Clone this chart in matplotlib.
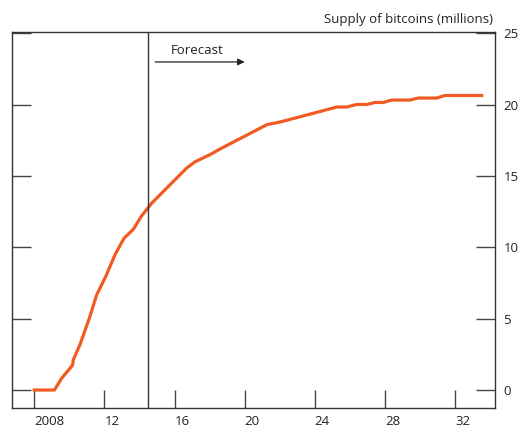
import matplotlib
matplotlib.use("Agg")
import matplotlib.pyplot as plt

years = [2008.0, 2009.15, 2009.56, 2010.19, 2010.22, 2010.6, 2011.14, 2011.56,
         2012.09, 2012.6, 2013.12, 2013.65, 2014.12, 2014.7, 2016.69, 2017.17,
         2018.02, 2018.6, 2021.26, 2022.02, 2024.1, 2025.25, 2025.82, 2026.39,
         2026.96, 2027.44, 2027.91, 2028.39, 2029.43, 2029.9, 2030.95, 2031.43,
         2033.52]
supply = [0.0, 0.0, 0.82, 1.75, 2.1, 3.16, 5.03, 6.67,
          8.0, 9.47, 10.64, 11.27, 12.2, 13.1, 15.56, 16.0,
          16.5, 16.9, 18.6, 18.79, 19.46, 19.84, 19.84, 20.02,
          20.02, 20.16, 20.16, 20.33, 20.33, 20.47, 20.47, 20.65,
          20.65]
xticks = [2008, 2012, 2016, 2020, 2024, 2028, 2032]
xticklabels = ["2008", "12", "16", "20", "24", "28", "32"]
yticks = [0, 5, 10, 15, 20, 25]
forecast_start = 2014.5

plt.rcParams['font.family'] = ['Open Sans', 'DejaVu Sans']
fig = plt.figure(figsize=(5.32, 4.32), dpi=100)
ax = fig.add_axes([12/532, 24/432, (495-12)/532, (408-32)/432])

ax.plot(years, supply, color='#F15A22', lw=2.3, solid_joinstyle='round')
ax.axvline(forecast_start, color='#333333', lw=1)

ax.set_xlim(2006.73, 2034.28)
ax.set_ylim(-1.26, 25.1)

ax.set_xticks(xticks)
ax.set_xticklabels(xticklabels, ha='left')
ax.set_yticks(yticks)
ax.tick_params(axis='x', direction='in', length=13, width=1, color='#444444',
               labelsize=9.5, pad=5, labelcolor='#222222')
ax.tick_params(axis='y', direction='in', length=14, width=1, color='#444444',
               labelsize=9.5, left=True, right=True, labelleft=False, labelright=True,
               pad=6, labelcolor='#222222')
for s in ax.spines.values():
    s.set_color('#333333')
    s.set_linewidth(1)

ax.annotate('', xy=(2020.0, 23.0), xytext=(2014.9, 23.0),
            arrowprops=dict(arrowstyle='-|>', color='#222222', lw=0.9,
                            mutation_scale=10, shrinkA=0, shrinkB=0))
ax.text(2015.8, 23.8, 'Forecast', fontsize=9.5, color='#222222', va='center', ha='left')

fig.text(493/532, 1 - 19/432, 'Supply of bitcoins (millions)', ha='right', va='center',
         fontsize=9.5, color='#222222')

fig.savefig('out.png', dpi=100)
